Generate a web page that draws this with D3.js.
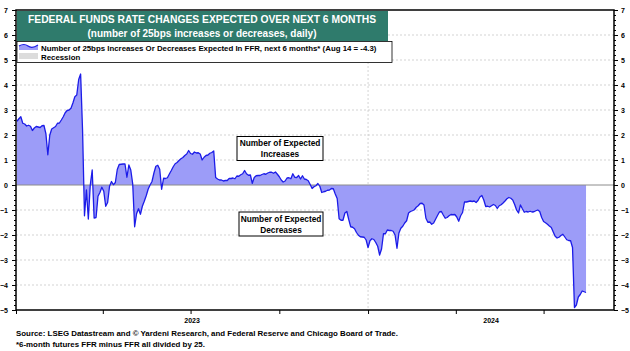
<!DOCTYPE html>
<html>
<head>
<meta charset="utf-8">
<script src="https://cdn.jsdelivr.net/npm/d3@7"></script>
<style>
  body { margin: 0; background: #fff; }
  text { font-family: "Liberation Sans", Arial, sans-serif; font-weight: bold; }
</style>
</head>
<body>
<svg id="ffr-chart" width="630" height="351"></svg>
<script>
// data: expected 25bp moves, one reading every 2 days from startDate
const startDate = "2023-01-02";
const stepDays = 2;
const expectedMoves = [
  2.55, 2.65, 2.73, 2.47, 2.44, 2.36, 2.39, 2.35, 2.18, 2.28,
  2.34, 2.32, 2.3, 2.37, 2.38, 2.05, 1.21, 1.99, 2.24, 2.29,
  2.34, 2.47, 2.48, 2.6, 2.73, 2.89, 2.98, 3.0, 3.07, 3.28,
  3.53, 3.6, 4.22, 4.44, 2.2, -1.23, -0.2, -1.36, 0.0, 0.6,
  -1.32, -1.3, -0.45, -0.3, -0.09, -0.25, -0.85, -0.7, -0.05, 0.14,
  0.01, 0.1, 0.62, 0.82, 0.83, 0.84, 0.84, 0.31, 0.8, 0.6,
  0.05, -1.67, -1.15, -0.95, -1.17, -0.85, -0.65, -0.43, -0.17, 0.0,
  0.14, 0.48, 0.75, 0.79, 0.63, -0.17, 0.27, 0.26, 0.29, 0.44,
  0.58, 0.73, 0.85, 0.9, 0.98, 1.05, 1.1, 1.18, 1.24, 1.38,
  1.26, 1.23, 1.32, 1.28, 1.29, 1.24, 1.0, 1.11, 1.18, 1.2,
  1.27, 1.3, 1.36, 0.3, 0.24, 0.2, 0.2, 0.16, 0.18, 0.18,
  0.26, 0.26, 0.28, 0.25, 0.36, 0.35, 0.41, 0.45, 0.58, 0.45,
  0.39, 0.4, 0.07, 0.3, 0.37, 0.38, 0.38, 0.42, 0.45, 0.43,
  0.48, 0.51, 0.51, 0.47, 0.52, 0.43, 0.33, 0.2, 0.12, 0.16,
  0.28, 0.29, 0.25, 0.45, 0.31, 0.3, 0.38, 0.24, 0.37, 0.24,
  0.22, 0.17, 0.02, -0.14, -0.07, -0.03, 0.06, -0.05, -0.3, -0.27,
  -0.25, -0.21, -0.2, -0.14, -0.15, -0.36, -0.54, -1.35, -1.41, -1.41,
  -1.12, -1.06, -1.38, -1.67, -1.69, -1.75, -1.9, -2.01, -2.07, -2.08,
  -2.09, -2.2, -2.5, -2.23, -2.15, -2.18, -2.3, -2.45, -2.8, -2.56,
  -1.95, -1.95, -1.8, -1.82, -1.82, -1.85, -2.0, -2.53, -1.92, -1.73,
  -1.65, -1.52, -1.43, -1.12, -1.06, -1.03, -0.99, -0.89, -0.83, -0.74,
  -0.73, -0.8, -1.33, -1.49, -1.48, -1.57, -1.52, -1.37, -1.22, -1.08,
  -1.06, -1.2, -1.33, -1.3, -1.23, -1.18, -1.19, -1.18, -1.28, -1.45,
  -1.23, -1.1, -0.68, -0.68, -0.66, -0.64, -0.66, -0.64, -0.7, -0.62,
  -0.48, -0.42, -0.6, -0.86, -0.85, -0.88, -0.83, -0.78, -0.82, -0.94,
  -0.83, -0.79, -0.72, -0.64, -0.55, -0.5, -0.53, -0.6, -0.78, -1.0,
  -1.12, -0.8, -0.95, -1.09, -1.06, -1.08, -1.05, -1.08, -1.07, -1.03,
  -1.0, -1.06, -1.3, -1.46, -1.51, -1.57, -1.64, -1.7, -1.88, -2.05,
  -2.12, -2.09, -2.02, -1.97, -2.08, -2.19, -2.22, -2.23, -2.5, -4.9,
  -4.8, -4.48, -4.38, -4.24, -4.27, -4.3
];
const xDomain = ["2023-01-01", "2024-09-12"];
const yTicks = [-5, -4, -3, -2, -1, 0, 1, 2, 3, 4, 5, 6, 7];
const yearLabels = ["2023", "2024"];
const titleLines = [
  "FEDERAL FUNDS RATE CHANGES EXPECTED OVER NEXT 6 MONTHS",
  "(number of 25bps increases or decreases, daily)"
];
const legendLabels = [
  "Number of 25bps Increases Or Decreases Expected In FFR, next 6 months* (Aug 14 = -4.3)",
  "Recession"
];
const noteIncreases = ["Number of Expected", "Increases"];
const noteDecreases = ["Number of Expected", "Decreases"];
const footerLines = [
  "Source: LSEG Datastream and \u00a9 Yardeni Research, and Federal Reserve and Chicago Board of Trade.",
  "*6-month futures FFR minus FFR all divided by 25."
];

const parseDate = d3.timeParse("%Y-%m-%d");
const start = parseDate(startDate);
const data = expectedMoves.map((v, i) => ({
  date: d3.timeDay.offset(start, i * stepDays),
  value: v
}));

// plot frame
const svg = d3.select("#ffr-chart");
const plot = { left: 16, right: 614, top: 10, bottom: 310 };

const x = d3.scaleTime()
  .domain(xDomain.map(parseDate))
  .range([plot.left, plot.right]);
const y = d3.scaleLinear().domain([-5, 7]).range([plot.bottom, plot.top]);

const fillColor = "#9c9cf8";
const lineColor = "#1c1ce8";

// gridlines
svg.append("g")
  .selectAll("line")
  .data(yTicks.filter((t) => t > -5 && t < 7 && t !== 0))
  .join("line")
  .attr("x1", plot.left)
  .attr("x2", plot.right)
  .attr("y1", (d) => y(d))
  .attr("y2", (d) => y(d))
  .attr("stroke", "#c8c8c8")
  .attr("stroke-width", 0.8)
  .attr("stroke-dasharray", "2,2");

svg.append("line")
  .attr("x1", x(parseDate("2024-01-01")))
  .attr("x2", x(parseDate("2024-01-01")))
  .attr("y1", plot.top)
  .attr("y2", plot.bottom)
  .attr("stroke", "#c8c8c8")
  .attr("stroke-width", 0.8)
  .attr("stroke-dasharray", "2,2");

// area + line
const area = d3.area()
  .x((d) => x(d.date))
  .y0(y(0))
  .y1((d) => y(d.value));
const line = d3.line()
  .x((d) => x(d.date))
  .y((d) => y(d.value));

svg.append("path").datum(data).attr("d", area).attr("fill", fillColor);

svg.append("line")
  .attr("x1", plot.left)
  .attr("x2", plot.right)
  .attr("y1", y(0))
  .attr("y2", y(0))
  .attr("stroke", "#8c8c8c")
  .attr("stroke-width", 1);

svg.append("path")
  .datum(data)
  .attr("d", line)
  .attr("fill", "none")
  .attr("stroke", lineColor)
  .attr("stroke-width", 1.3)
  .attr("stroke-linejoin", "round");

// frame
svg.append("rect")
  .attr("x", plot.left)
  .attr("y", plot.top)
  .attr("width", plot.right - plot.left)
  .attr("height", plot.bottom - plot.top)
  .attr("fill", "none")
  .attr("stroke", "#000")
  .attr("stroke-width", 1.5);

// y axes, majors + minors
const minorTicks = d3.range(-5, 7.001, 0.2).map((d) => +d.toFixed(1));
const styleAxis = (g) => {
  g.select(".domain").remove();
  g.selectAll("text").style("font-size", "7px").attr("fill", "#000");
  g.selectAll("line").attr("stroke", "#000");
};
svg.append("g")
  .attr("transform", `translate(${plot.left},0)`)
  .call(d3.axisLeft(y).tickValues(minorTicks).tickSize(2).tickFormat(""))
  .call(styleAxis);
svg.append("g")
  .attr("transform", `translate(${plot.left},0)`)
  .call(d3.axisLeft(y).tickValues(yTicks).tickSize(4).tickPadding(4).tickFormat(d3.format("d")))
  .call(styleAxis);
svg.append("g")
  .attr("transform", `translate(${plot.right},0)`)
  .call(d3.axisRight(y).tickValues(minorTicks).tickSize(2).tickFormat(""))
  .call(styleAxis);
svg.append("g")
  .attr("transform", `translate(${plot.right},0)`)
  .call(d3.axisRight(y).tickValues(yTicks).tickSize(4).tickPadding(3).tickFormat(d3.format("d")))
  .call(styleAxis);

// x axis: quarterly ticks, year labels centred on visible span
svg.append("g")
  .attr("transform", `translate(0,${plot.bottom})`)
  .call(d3.axisBottom(x).ticks(d3.timeMonth.every(3)).tickSize(4).tickFormat(""))
  .call(styleAxis);

const yearStarts = yearLabels.map((yr) => parseDate(`${yr}-01-01`));
svg.append("g")
  .selectAll("text")
  .data(yearLabels)
  .join("text")
  .attr("x", (d, i) => {
    const a = Math.max(x(yearStarts[i]), plot.left);
    const b = i + 1 < yearStarts.length ? x(yearStarts[i + 1]) : plot.right;
    return (a + b) / 2;
  })
  .attr("y", plot.bottom + 13)
  .attr("text-anchor", "middle")
  .style("font-size", "7px")
  .text((d) => d);

// title box
const title = svg.append("g");
title.append("rect")
  .attr("x", plot.left + 1)
  .attr("y", plot.top + 1)
  .attr("width", 371)
  .attr("height", 30)
  .attr("fill", "#2f7b6c");
title.selectAll("text")
  .data(titleLines)
  .join("text")
  .attr("x", 202)
  .attr("y", (d, i) => 23 + i * 14)
  .attr("text-anchor", "middle")
  .attr("fill", "#fff")
  .style("font-size", (d, i) => (i === 0 ? "10.3px" : "10px"))
  .text((d) => d);

// legend
const legend = svg.append("g");
legend.append("rect")
  .attr("x", plot.left + 1)
  .attr("y", 41.5)
  .attr("width", 375)
  .attr("height", 21)
  .attr("fill", "#fff")
  .attr("stroke", "#000")
  .attr("stroke-width", 0.8);
legend.append("path")
  .attr("d", "M19,46 Q24,43 28,46 T38,45 L38,50 L19,50 Z")
  .attr("fill", fillColor);
legend.append("path")
  .attr("d", "M19,46 Q24,43 28,46 T38,45")
  .attr("fill", "none")
  .attr("stroke", lineColor)
  .attr("stroke-width", 1.2);
legend.append("rect")
  .attr("x", 19)
  .attr("y", 53)
  .attr("width", 19)
  .attr("height", 6)
  .attr("fill", "#dcdcdc");
legend.selectAll("text")
  .data(legendLabels)
  .join("text")
  .attr("x", 41)
  .attr("y", (d, i) => 50.5 + i * 9)
  .style("font-size", "7.85px")
  .text((d) => d);

// annotation boxes
const note = (lines, cx, top, w) => {
  const g = svg.append("g");
  g.append("rect")
    .attr("x", cx - w / 2)
    .attr("y", top)
    .attr("width", w)
    .attr("height", 24)
    .attr("fill", "#fff")
    .attr("stroke", "#000")
    .attr("stroke-width", 1);
  g.selectAll("text")
    .data(lines)
    .join("text")
    .attr("x", cx)
    .attr("y", (d, i) => top + 9.5 + i * 11)
    .attr("text-anchor", "middle")
    .style("font-size", "8.3px")
    .text((d) => d);
};
note(noteIncreases, 280, 136.5, 86);
note(noteDecreases, 281, 212, 84);

// footer
svg.append("g")
  .selectAll("text")
  .data(footerLines)
  .join("text")
  .attr("x", plot.left)
  .attr("y", (d, i) => 336 + i * 11)
  .style("font-size", "7.9px")
  .text((d) => d);
</script>
</body>
</html>
